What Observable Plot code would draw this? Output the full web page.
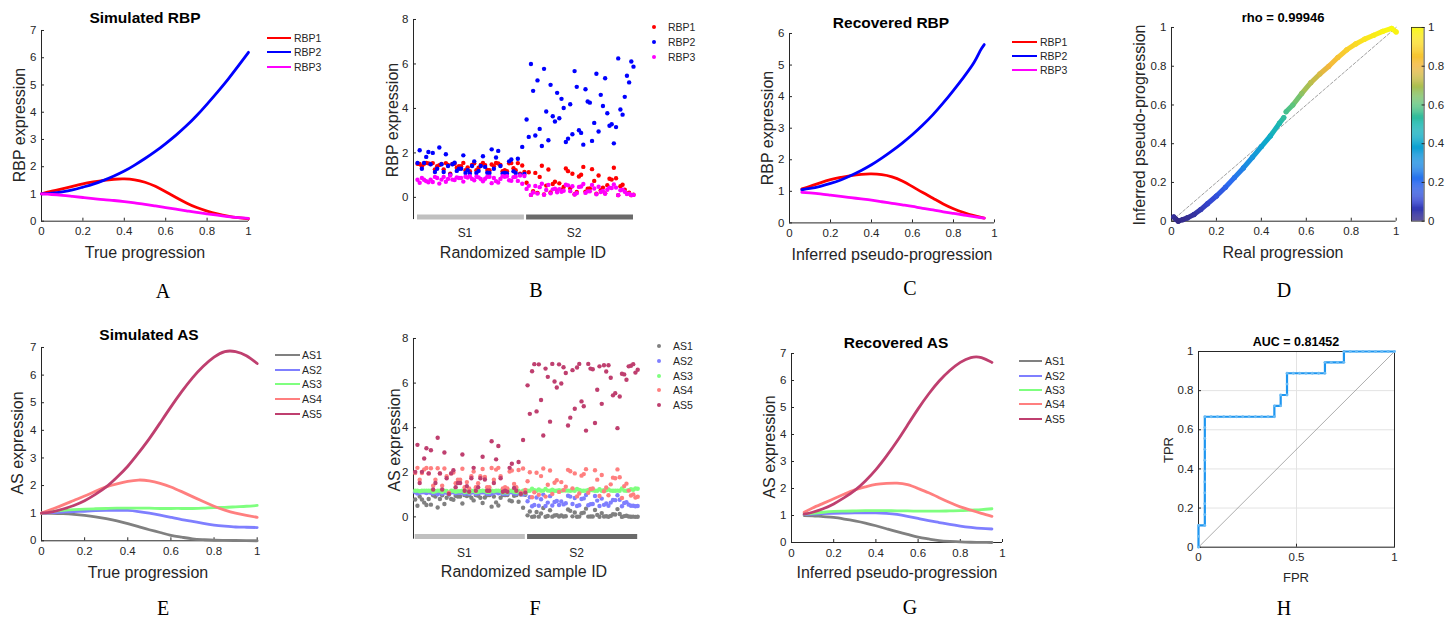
<!DOCTYPE html>
<html><head><meta charset="utf-8">
<script src="https://cdn.jsdelivr.net/npm/d3@7"></script>
<script src="https://cdn.jsdelivr.net/npm/@observablehq/plot@0.6"></script>
<style>
body{margin:0;background:#fff;}
#fig{position:relative;width:1455px;height:621px;overflow:hidden;font-family:"Liberation Sans",Arial,Helvetica,sans-serif;color:#262626;background:#fff;}
.abs{position:absolute;white-space:nowrap;line-height:1;}
.c{transform:translate(-50%,-50%);}
.title{font-weight:bold;font-size:15.5px;color:#000;}
.xl{font-size:16px;}
.yl{font-size:16px;transform:translate(-50%,-50%) rotate(-90deg);}
.letter{font-family:"Liberation Serif","DejaVu Serif",serif;font-size:20px;color:#000;}
.leg{font-size:10.5px;transform:translateY(-50%);}
</style></head><body><div id="fig"></div><script>
// ---------------- DATA ----------------
// Panel A: simulated RBP curves vs true progression
const trueProg = [0,0.05,0.1,0.15,0.2,0.25,0.3,0.35,0.4,0.45,0.5,0.55,0.6,0.65,0.7,0.75,0.8,0.85,0.9,0.95,1];
const simRBP1 = [1.0,1.1,1.19,1.28,1.37,1.44,1.5,1.54,1.55,1.52,1.43,1.28,1.08,0.87,0.67,0.5,0.37,0.27,0.19,0.13,0.09];
const simRBP2 = [1.0,1.03,1.08,1.15,1.25,1.36,1.5,1.66,1.84,2.06,2.3,2.56,2.85,3.16,3.5,3.88,4.3,4.74,5.2,5.69,6.2];
const simRBP3 = [1.0,0.98,0.95,0.91,0.87,0.83,0.79,0.76,0.72,0.67,0.62,0.56,0.5,0.44,0.38,0.32,0.27,0.22,0.17,0.13,0.1];
const rbpNames = ["RBP1","RBP2","RBP3"];
const rbpColors = ["#ff0000","#0000ff","#ff00ff"];

// Panel B: RBP expression per randomized sample (S1: 1-50, S2: 51-100)
const sampleIds = d3.range(1, 101);
const smpRBP1 = [1.51,1.5,1.4,1.51,1.55,1.53,1.5,1.54,1.26,1.4,1.45,1.5,1.26,1.54,1.46,1.06,1.5,1.51,1.33,1.4,1.4,1.55,1.22,1.35,1.18,1.46,1.53,1.22,1.33,1.46,1.55,1.45,1.23,1.22,1.48,1.4,1.55,1.52,1.46,1.18,1.22,1.18,1.53,1.54,1.31,1.22,1.54,1.06,1.43,1.14,
  0.66,1.13,0.11,0.28,1.1,0.2,0.92,1.42,0.13,0.53,1.25,0.22,0.6,0.7,0.3,0.63,0.35,0.47,1.3,1.18,0.41,1.06,0.14,0.24,0.94,1.02,1.37,0.26,0.39,0.4,1.27,0.74,0.16,0.98,0.32,0.44,0.18,0.55,0.84,0.8,1.33,0.86,0.1,0.5,0.57,0.34,0.17,0.21,0.1,0.12];
const smpRBP2 = [1.55,2.12,1.29,1.55,1.82,2.04,1.49,2.0,1.14,1.29,2.24,1.49,1.14,1.94,1.41,1.02,1.49,1.56,1.19,1.29,1.29,1.89,1.1,1.22,1.07,1.41,1.62,1.1,1.19,1.41,1.85,1.37,1.11,1.1,2.16,1.29,1.79,2.09,1.41,1.07,1.1,1.07,1.62,1.7,1.17,1.1,1.74,1.02,2.27,1.05,
  3.5,2.72,6.0,4.79,2.78,5.26,3.08,2.31,5.78,3.86,2.57,5.06,3.65,3.41,4.7,3.56,4.43,4.02,2.49,2.64,4.19,2.84,5.68,4.97,3.02,2.9,2.37,4.86,4.31,4.26,2.54,3.35,5.56,2.96,4.61,4.11,5.36,3.78,3.22,3.29,2.43,3.16,6.25,3.95,3.72,4.52,5.47,5.17,6.11,5.88];
const smpRBP3 = [0.79,0.66,0.87,0.79,0.73,0.68,0.8,0.69,0.92,0.87,0.62,0.8,0.92,0.7,0.83,0.98,0.8,0.78,0.9,0.87,0.87,0.71,0.93,0.89,0.95,0.83,0.77,0.93,0.9,0.83,0.72,0.84,0.93,0.93,0.64,0.87,0.73,0.67,0.83,0.95,0.93,0.95,0.77,0.75,0.91,0.93,0.74,0.98,0.61,0.96,
  0.38,0.52,0.11,0.22,0.51,0.17,0.46,0.61,0.12,0.33,0.56,0.18,0.36,0.39,0.23,0.37,0.25,0.3,0.57,0.54,0.28,0.5,0.13,0.19,0.47,0.49,0.6,0.2,0.27,0.27,0.56,0.4,0.14,0.48,0.24,0.29,0.16,0.34,0.44,0.42,0.58,0.44,0.1,0.32,0.35,0.25,0.15,0.17,0.1,0.11];
const groupNames = ["S1","S2"];
const groupStart = [1, 51];
const groupEnd = [50, 100];
const groupColors = ["#c0c0c0","#6a6a6a"];

// Panel C: recovered RBP vs inferred pseudo-progression
const pseudoC = [0.06,0.1,0.15,0.2,0.25,0.3,0.35,0.4,0.45,0.5,0.55,0.6,0.65,0.7,0.75,0.8,0.85,0.9,0.93,0.95];
const recRBP1 = [1.08,1.16,1.27,1.37,1.44,1.5,1.54,1.55,1.53,1.46,1.33,1.15,0.96,0.78,0.6,0.45,0.33,0.23,0.18,0.15];
const recRBP2 = [1.05,1.09,1.16,1.25,1.36,1.5,1.66,1.84,2.05,2.28,2.53,2.8,3.1,3.43,3.8,4.2,4.62,5.08,5.45,5.65];
const recRBP3 = [0.97,0.95,0.92,0.88,0.84,0.8,0.76,0.72,0.67,0.62,0.57,0.52,0.46,0.41,0.35,0.3,0.25,0.2,0.17,0.15];

// Panel D: inferred vs real progression (two runs of points, gap near 0.5)
const realProg   = [0.01,0.02,0.03,0.05,0.07,0.1,0.13,0.16,0.2,0.24,0.28,0.32,0.36,0.4,0.44,0.48,0.5, 0.51,0.54,0.58,0.62,0.66,0.7,0.74,0.78,0.82,0.86,0.9,0.94,0.98,1.0];
const inferProg  = [0.022,0.01,0.0,0.008,0.017,0.034,0.06,0.09,0.13,0.175,0.225,0.275,0.33,0.385,0.44,0.505,0.535, 0.565,0.6,0.66,0.715,0.76,0.8,0.845,0.885,0.915,0.94,0.96,0.98,0.995,0.977];
const dSegment   = [1,1,1,1,1,1,1,1,1,1,1,1,1,1,1,1,1, 2,2,2,2,2,2,2,2,2,2,2,2,2,2];
const rhoText = "rho = 0.99946";
const parulaStops  = [0,0.1,0.2,0.3,0.4,0.5,0.6,0.7,0.8,0.9,1];
const parulaColors = ["#352a87","#3545d0","#2c6cf0","#1a8de0","#0ca6cf","#1cb8b0","#5cc47c","#b0bf50","#f3b63c","#fad42a","#f9fb0e"];

// Panel E: simulated AS curves
const simAS1 = [1.0,0.995,0.98,0.955,0.92,0.87,0.8,0.72,0.62,0.51,0.4,0.3,0.2,0.13,0.07,0.04,0.02,0.015,0.01,0.005,0.0];
const simAS2 = [1.0,1.02,1.04,1.06,1.07,1.09,1.1,1.1,1.1,1.06,1.0,0.93,0.85,0.77,0.7,0.63,0.57,0.53,0.5,0.49,0.48];
const simAS3 = [1.0,1.06,1.1,1.13,1.15,1.16,1.17,1.18,1.18,1.18,1.18,1.17,1.17,1.17,1.17,1.18,1.2,1.21,1.23,1.25,1.28];
const simAS4 = [1.0,1.15,1.3,1.46,1.62,1.79,1.95,2.06,2.15,2.2,2.17,2.08,1.95,1.78,1.6,1.42,1.25,1.11,1.0,0.92,0.85];
const simAS5 = [1.0,1.05,1.15,1.28,1.45,1.68,1.95,2.3,2.7,3.18,3.7,4.27,4.85,5.4,5.9,6.32,6.65,6.85,6.85,6.7,6.42];
const asNames = ["AS1","AS2","AS3","AS4","AS5"];
const asColors = ["#808080","#7f7fff","#7fff7f","#ff7f7f","#bf3f6f"];

// Panel F: AS expression per randomized sample
const smpAS1 = [0.78,0.5,0.91,0.78,0.64,0.53,0.8,0.55,0.965,0.91,0.42,0.8,0.965,0.58,0.86,1.0,0.8,0.77,0.945,0.91,0.91,0.6,0.975,0.935,0.985,0.86,0.74,0.975,0.945,0.86,0.62,0.87,0.975,0.975,0.46,0.91,0.65,0.51,0.86,0.985,0.975,0.985,0.74,0.7,0.95,0.975,0.68,1.0,0.41,0.99,
  0.07,0.24,0.002,0.015,0.22,0.01,0.15,0.4,0.004,0.04,0.3,0.01,0.06,0.08,0.016,0.065,0.02,0.03,0.33,0.27,0.025,0.2,0.005,0.012,0.16,0.19,0.37,0.013,0.02,0.02,0.31,0.09,0.007,0.17,0.017,0.03,0.009,0.045,0.12,0.11,0.35,0.13,0.0,0.035,0.05,0.018,0.008,0.01,0.001,0.003];
const smpAS2 = [1.1,1.05,1.08,1.1,1.1,1.07,1.1,1.08,1.05,1.08,1.01,1.1,1.05,1.09,1.09,1.01,1.1,1.1,1.06,1.08,1.08,1.09,1.04,1.06,1.04,1.09,1.1,1.04,1.06,1.09,1.1,1.09,1.04,1.04,1.04,1.08,1.1,1.06,1.09,1.04,1.04,1.04,1.1,1.1,1.06,1.04,1.1,1.01,1.0,1.03,
  0.7,0.88,0.48,0.53,0.87,0.5,0.79,1.0,0.49,0.64,0.93,0.51,0.67,0.71,0.53,0.69,0.56,0.61,0.95,0.91,0.58,0.85,0.49,0.52,0.8,0.83,0.98,0.52,0.57,0.58,0.94,0.73,0.49,0.82,0.54,0.6,0.5,0.64,0.76,0.75,0.97,0.77,0.48,0.62,0.66,0.55,0.5,0.5,0.48,0.49];
const smpAS3 = [1.17,1.18,1.15,1.17,1.18,1.18,1.17,1.18,1.12,1.15,1.18,1.17,1.12,1.18,1.16,1.03,1.17,1.17,1.13,1.15,1.15,1.18,1.11,1.14,1.09,1.16,1.17,1.11,1.13,1.16,1.18,1.16,1.11,1.11,1.18,1.15,1.18,1.18,1.16,1.09,1.11,1.09,1.17,1.17,1.13,1.11,1.17,1.03,1.18,1.07,
  1.17,1.17,1.26,1.2,1.17,1.23,1.17,1.18,1.25,1.18,1.17,1.22,1.17,1.17,1.2,1.17,1.19,1.18,1.18,1.17,1.19,1.17,1.25,1.21,1.17,1.17,1.18,1.21,1.2,1.19,1.17,1.17,1.24,1.17,1.2,1.19,1.23,1.18,1.17,1.17,1.18,1.17,1.28,1.18,1.17,1.2,1.24,1.22,1.27,1.26];
const smpAS4 = [1.97,2.2,1.67,1.97,2.13,2.19,1.95,2.18,1.4,1.67,2.18,1.95,1.4,2.17,1.82,1.09,1.95,1.99,1.51,1.67,1.67,2.16,1.33,1.56,1.27,1.82,2.03,1.33,1.51,1.82,2.15,1.79,1.33,1.33,2.19,1.67,2.12,2.2,1.82,1.27,1.33,1.27,2.03,2.08,1.48,1.33,2.1,1.09,2.17,1.21,
  1.6,2.0,0.88,1.1,1.98,0.99,1.83,2.17,0.91,1.44,2.08,1.03,1.53,1.64,1.12,1.56,1.2,1.35,2.11,2.05,1.28,1.95,0.92,1.05,1.85,1.92,2.14,1.08,1.25,1.27,2.09,1.67,0.94,1.88,1.15,1.32,0.97,1.46,1.76,1.73,2.13,1.78,0.85,1.38,1.49,1.18,0.96,1.01,0.87,0.9];
const smpAS5 = [2.02,3.23,1.52,2.02,2.62,3.08,1.95,2.99,1.23,1.52,3.55,1.95,1.23,2.89,1.73,1.03,1.95,2.09,1.33,1.52,1.52,2.8,1.17,1.38,1.13,1.73,2.2,1.17,1.33,1.73,2.7,1.68,1.17,1.17,3.39,1.52,2.58,3.18,1.73,1.13,1.17,1.13,2.2,2.38,1.3,1.17,2.46,1.03,3.45,1.09,
  5.9,4.62,6.53,6.85,4.73,6.84,5.24,3.65,6.65,6.28,4.27,6.86,6.07,5.8,6.84,5.98,6.71,6.45,4.1,4.45,6.58,4.85,6.7,6.86,5.18,4.96,3.87,6.86,6.65,6.62,4.21,5.7,6.75,5.07,6.8,6.52,6.8,6.24,5.45,5.55,3.98,5.4,6.42,6.39,6.15,6.75,6.78,6.85,6.47,6.6];

// Panel G: recovered AS curves
const pseudoG = [0.06,0.1,0.15,0.2,0.25,0.3,0.35,0.4,0.45,0.5,0.55,0.6,0.65,0.7,0.75,0.8,0.85,0.9,0.95];
const recAS1 = [1.0,0.99,0.96,0.93,0.87,0.8,0.72,0.62,0.51,0.4,0.3,0.2,0.13,0.07,0.04,0.02,0.01,0.005,0.0];
const recAS2 = [1.03,1.05,1.07,1.08,1.09,1.1,1.1,1.1,1.08,1.04,0.97,0.89,0.81,0.74,0.67,0.61,0.56,0.52,0.5];
const recAS3 = [1.05,1.08,1.12,1.15,1.16,1.17,1.18,1.18,1.18,1.17,1.17,1.16,1.16,1.16,1.17,1.18,1.2,1.22,1.25];
const recAS4 = [1.12,1.28,1.45,1.62,1.79,1.95,2.06,2.15,2.19,2.2,2.14,2.0,1.84,1.66,1.48,1.32,1.2,1.08,0.97];
const recAS5 = [1.05,1.12,1.25,1.43,1.66,1.93,2.28,2.7,3.2,3.75,4.35,4.95,5.5,5.98,6.37,6.67,6.85,6.85,6.67];

// Panel H: ROC curve (counts of false / true positives, 31 negatives, 18 positives)
const rocFalsePos = [0,0,0,1, 1,1,1,1,1,1,1,1,1,1, 2,3,4,5,6,7,8,9,10,11,12, 12,13,13,14,14,14, 15,16,17,18,19,20, 20,21,22,23, 23, 24,25,26,27,28,29,30,31];
const rocTruePos  = [0,1,2,2, 3,4,5,6,7,8,9,10,11,12, 12,12,12,12,12,12,12,12,12,12,12, 13,13,14,14,15,16, 16,16,16,16,16,16, 17,17,17,17, 18, 18,18,18,18,18,18,18,18];
const nNeg = 31, nPos = 18;
const aucText = "AUC = 0.81452";

// tick labels
const ticks01 = [0,0.2,0.4,0.6,0.8,1];
const ticks07 = [0,1,2,3,4,5,6,7];
const ticks06 = [0,1,2,3,4,5,6];
const ticks08 = [0,2,4,6,8];
const ticksH_x = [0,0.5,1];

// ---------------- DRAWING ----------------
const fig = document.getElementById('fig');
const FONT = '"Liberation Sans", Arial, Helvetica, sans-serif';
const AX = '#262626';
const fmt = d => String(Math.round(d * 1000) / 1000);

function txt(cls, x, y, s, extra) {
  const d = document.createElement('div');
  d.className = 'abs ' + cls;
  d.style.left = x + 'px'; d.style.top = y + 'px';
  d.textContent = s;
  if (extra) Object.assign(d.style, extra);
  fig.appendChild(d);
}
function lineLegend(x1, x2, tx, ys, names, colors) {
  names.forEach((n, i) => {
    const b = document.createElement('div');
    b.className = 'abs';
    Object.assign(b.style, {left: x1 + 'px', top: (ys[i] - 1.4) + 'px', width: (x2 - x1) + 'px', height: '2.8px', background: colors[i]});
    fig.appendChild(b);
    txt('leg', tx, ys[i], n);
  });
}
function dotLegend(cx, tx, ys, names, colors) {
  names.forEach((n, i) => {
    const b = document.createElement('div');
    b.className = 'abs';
    Object.assign(b.style, {left: (cx - 2.2) + 'px', top: (ys[i] - 2.2) + 'px', width: '4.4px', height: '4.4px', borderRadius: '50%', background: colors[i]});
    fig.appendChild(b);
    txt('leg', tx, ys[i], n);
  });
}
function panel(L, T, R, B, opts, marks, fs) {
  const ml = 45, mr = 14, mt = 12, mb = 32;
  const svg = Plot.plot({
    width: (R - L) + ml + mr, height: (B - T) + mt + mb,
    marginLeft: ml, marginRight: mr, marginTop: mt, marginBottom: mb,
    style: {fontFamily: FONT, fontSize: (fs || 11.5) + 'px', color: AX, background: 'transparent', overflow: 'visible'},
    ...opts, marks
  });
  svg.style.position = 'absolute';
  svg.style.left = (L - ml) + 'px';
  svg.style.top = (T - mt) + 'px';
  fig.appendChild(svg);
}
function stdAxes(xt, yt, x0, y0) {
  return [
    Plot.ruleX([x0], {stroke: AX, strokeWidth: 1}),
    Plot.ruleY([y0], {stroke: AX, strokeWidth: 1}),
    Plot.axisX({ticks: xt, tickSize: -3, tickPadding: 9, tickFormat: fmt, label: null, stroke: AX}),
    Plot.axisY({ticks: yt, tickSize: -3, tickPadding: 8, tickFormat: fmt, label: null, stroke: AX})
  ];
}
function longCurves(xs, arrays, names) {
  const out = [];
  arrays.forEach((arr, k) => arr.forEach((v, i) => out.push({x: xs[i], y: v, s: names[k]})));
  return out;
}
function curvePanel(L, T, R, B, xs, arrays, names, colors, ymax, yt) {
  const data = longCurves(xs, arrays, names);
  panel(L, T, R, B, {
    x: {domain: [0, 1], label: null},
    y: {domain: [0, ymax], label: null},
    color: {domain: names, range: colors}
  }, [
    ...stdAxes(ticks01, yt, 0, 0),
    Plot.line(data, {x: 'x', y: 'y', z: 's', stroke: 's', strokeWidth: 2.8, curve: 'natural'})
  ]);
}
function scatterPanel(L, T, R, B, xdom, arrays, names, colors) {
  const data = [];
  arrays.forEach((arr, k) => arr.forEach((v, i) => data.push({id: sampleIds[i], v, s: names[k]})));
  const groups = groupNames.map((g, i) => ({g, a: groupStart[i], b: groupEnd[i], mid: (groupStart[i] + groupEnd[i]) / 2, c: groupColors[i]}));
  panel(L, T, R, B, {
    x: {domain: xdom, axis: null, label: null},
    y: {domain: [-1, 8], label: null},
    color: {domain: names, range: colors}
  }, [
    Plot.ruleX([xdom[0]], {stroke: AX, strokeWidth: 1}),
    Plot.axisY({ticks: ticks08, tickSize: -3, tickPadding: 8, tickFormat: fmt, label: null, stroke: AX}),
    Plot.ruleY(groups, {y: -0.885, x1: 'a', x2: 'b', stroke: 'c', strokeWidth: 5}),
    Plot.text(groups, {x: 'mid', y: -1, text: 'g', dy: 14, dx: -6, fontSize: 12, fill: AX}),
    Plot.dot(data, {x: 'id', y: 'v', fill: 's', r: 2.2, stroke: null})
  ]);
}

// A
curvePanel(41.3, 30, 248.3, 220.7, trueProg, [simRBP1, simRBP2, simRBP3], rbpNames, rbpColors, 7, ticks07);
txt('title c', 145, 18, 'Simulated RBP');
txt('yl', 20, 125, 'RBP expression');
txt('xl c', 145, 253, 'True progression');
txt('letter c', 163, 291, 'A');
lineLegend(267, 291, 294, [38, 52, 67], rbpNames, rbpColors);

// B
scatterPanel(413, 19.3, 635, 219.4, [-0.833, 100.92], [smpRBP1, smpRBP2, smpRBP3], rbpNames, rbpColors);
txt('yl', 393, 120, 'RBP expression');
txt('xl c', 523, 253, 'Randomized sample ID');
txt('letter c', 536, 290, 'B');
dotLegend(654, 668, [27, 42, 57], rbpNames, rbpColors);

// C
curvePanel(789.3, 33.3, 994.3, 222.7, pseudoC, [recRBP1, recRBP2, recRBP3], rbpNames, rbpColors, 6, ticks06);
txt('title c', 891, 23, 'Recovered RBP');
txt('yl', 768, 128, 'RBP expression');
txt('xl c', 892, 255, 'Inferred pseudo-progression');
txt('letter c', 910, 288, 'C');
lineLegend(1012, 1037, 1040, [42, 56, 70], rbpNames, rbpColors);

// D
{
  const pts = realProg.map((x, i) => ({x, y: inferProg[i], seg: dSegment[i]}));
  const links = [];
  for (let i = 1; i < pts.length; i++) {
    if (pts[i].seg === pts[i - 1].seg) links.push({x1: pts[i - 1].x, y1: pts[i - 1].y, x2: pts[i].x, y2: pts[i].y, c: (pts[i - 1].y + pts[i].y) / 2});
  }
  const diag = [0, 1];
  const colorScale = {type: 'linear', domain: parulaStops, range: parulaColors, interpolate: 'rgb'};
  panel(1171, 27.3, 1395.7, 221, {
    x: {domain: [0, 1], label: null},
    y: {domain: [0, 1], label: null},
    color: colorScale
  }, [
    ...stdAxes(ticks01, ticks01, 0, 0),
    Plot.line(diag, {x: d => d, y: d => d, stroke: '#777', strokeWidth: 0.7, strokeDasharray: '3,2'}),
    Plot.link(links, {x1: 'x1', y1: 'y1', x2: 'x2', y2: 'y2', stroke: 'c', strokeWidth: 5, strokeLinecap: 'round'}),
    Plot.dot(pts, {x: 'x', y: 'y', fill: 'y', r: 2.6, stroke: null})
  ]);
  // colorbar
  const levels = d3.range(0, 1, 0.005);
  const cb = Plot.plot({
    width: 12.6 + 2 + 30, height: 193.7 + 10 + 10,
    marginLeft: 2, marginRight: 30, marginTop: 10, marginBottom: 10,
    style: {fontFamily: FONT, fontSize: '11.5px', color: AX, background: 'transparent', overflow: 'visible'},
    x: {domain: [0, 1], axis: null},
    y: {domain: [0, 1], label: null},
    color: colorScale,
    marks: [
      Plot.rect(levels, {x1: 0, x2: 1, y1: d => d, y2: d => d + 0.0055, fill: d => d + 0.0025}),
      Plot.frame({stroke: AX, strokeWidth: 0.8}),
      Plot.axisY({anchor: 'right', ticks: ticks01, tickSize: -3, tickPadding: 7, tickFormat: fmt, label: null, stroke: AX})
    ]
  });
  cb.style.position = 'absolute'; cb.style.left = (1410.7 - 2) + 'px'; cb.style.top = (27.3 - 10) + 'px';
  fig.appendChild(cb);
}
txt('title c', 1283, 17, rhoText, {fontSize: '13px'});
txt('yl', 1140, 125, 'Inferred pseudo-progression');
txt('xl c', 1283, 253, 'Real progression');
txt('letter c', 1284, 290, 'D');

// E
curvePanel(41, 346.7, 256.7, 540, trueProg, [simAS1, simAS2, simAS3, simAS4, simAS5], asNames, asColors, 7, ticks07);
txt('title c', 149, 335, 'Simulated AS');
txt('yl', 18, 443, 'AS expression');
txt('xl c', 148, 573, 'True progression');
txt('letter c', 163, 608, 'E');
lineLegend(275, 300, 302, [355, 370, 384, 399, 414], asNames, asColors);

// F
scatterPanel(413.3, 338.3, 638.5, 539, [0.244, 100.44], [smpAS1, smpAS2, smpAS3, smpAS4, smpAS5], asNames, asColors);
txt('yl', 395, 440, 'AS expression');
txt('xl c', 524, 572, 'Randomized sample ID');
txt('letter c', 535, 608, 'F');
dotLegend(659, 673, [346, 361, 376, 390, 405], asNames, asColors);

// G
curvePanel(790.7, 353.3, 1001.7, 542.3, pseudoG, [recAS1, recAS2, recAS3, recAS4, recAS5], asNames, asColors, 7, ticks07);
txt('title c', 896, 343, 'Recovered AS');
txt('yl', 770, 447, 'AS expression');
txt('xl c', 897, 573, 'Inferred pseudo-progression');
txt('letter c', 910, 607, 'G');
lineLegend(1019, 1042, 1045, [361, 376, 390, 404, 419], asNames, asColors);

// H
{
  const roc = rocFalsePos.map((f, i) => ({fpr: f / nNeg, tpr: rocTruePos[i] / nPos}));
  const diag = [0, 1];
  panel(1198.3, 351, 1394.3, 546.7, {
    x: {domain: [0, 1], label: null},
    y: {domain: [0, 1], label: null}
  }, [
    Plot.gridX(ticksH_x, {stroke: '#e3e3e3', strokeOpacity: 1}),
    Plot.gridY(ticks01, {stroke: '#e3e3e3', strokeOpacity: 1}),
    Plot.frame({stroke: AX, strokeWidth: 1}),
    Plot.axisX({ticks: ticksH_x, tickSize: -3, tickPadding: 9, tickFormat: fmt, label: null, stroke: AX}),
    Plot.axisY({ticks: ticks01, tickSize: -3, tickPadding: 8, tickFormat: fmt, label: null, stroke: AX}),
    Plot.line(diag, {x: d => d, y: d => d, stroke: '#8a8a8a', strokeWidth: 0.7}),
    Plot.line(roc, {x: 'fpr', y: 'tpr', stroke: '#1e96f0', strokeWidth: 2.2}),
    Plot.dot(roc, {x: 'fpr', y: 'tpr', r: 1.4, fill: '#6cbcf5', stroke: null})
  ]);
}
txt('title c', 1296, 342, aucText, {fontSize: '12.5px'});
txt('yl', 1168, 450, 'TPR', {fontSize: '13px'});
txt('xl c', 1296, 577, 'FPR', {fontSize: '13px'});
txt('letter c', 1284, 608, 'H');
</script></body></html>
